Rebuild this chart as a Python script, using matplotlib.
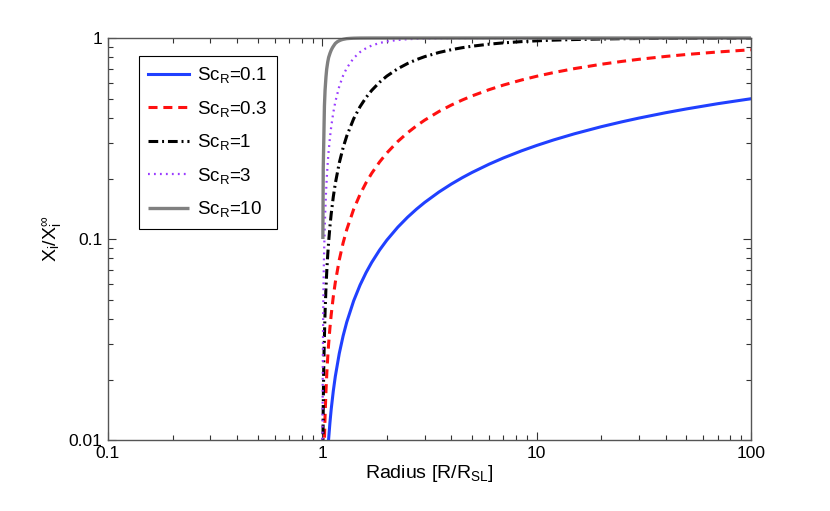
import matplotlib
matplotlib.use("Agg")
import matplotlib.pyplot as plt
from matplotlib.ticker import FixedLocator, FixedFormatter, LogLocator, NullFormatter

plt.rcParams['font.family'] = ['Liberation Sans', 'DejaVu Sans']
plt.rcParams['mathtext.fontset'] = 'custom'
plt.rcParams['mathtext.rm'] = 'Liberation Sans'
plt.rcParams['mathtext.it'] = 'Liberation Sans'
plt.rcParams['mathtext.bf'] = 'Liberation Sans:bold'
plt.rcParams['lines.scale_dashes'] = False

# ---- data ----
radius = [1.002, 1.005, 1.01, 1.015, 1.02, 1.03, 1.04, 1.05, 1.06, 1.07, 1.085, 1.1, 1.125,
          1.15, 1.2, 1.25, 1.3, 1.4, 1.5, 1.6, 1.7, 1.85, 2, 2.25, 2.5, 2.75, 3, 3.5, 4,
          4.5, 5, 6, 7, 8.5, 10, 12, 15, 20, 25, 30, 40, 50, 70, 100]
x_sc01 = [0.0003, 0.00075, 0.00149, 0.00223, 0.00297, 0.00442, 0.00587, 0.00729, 0.00870,
          0.0101, 0.01216, 0.0142, 0.01751, 0.02075, 0.02698, 0.03292, 0.03859, 0.04922,
          0.05901, 0.06807, 0.07651, 0.08815, 0.09875, 0.11453, 0.12842, 0.14079, 0.15193,
          0.17131, 0.18774, 0.20199, 0.21448, 0.23568, 0.25318, 0.27460, 0.29201, 0.31114,
          0.33379, 0.36199, 0.38293, 0.39961, 0.42500, 0.44386, 0.47129, 0.49881]
x_sc03 = [0.0009, 0.00224, 0.00447, 0.00668, 0.00887, 0.01321, 0.01749, 0.02172, 0.02588,
          0.02999, 0.03605, 0.04198, 0.05162, 0.06096, 0.07876, 0.09554, 0.11136, 0.14051,
          0.16678, 0.19061, 0.21238, 0.24176, 0.26796, 0.30578, 0.33788, 0.36567, 0.39006,
          0.43093, 0.46404, 0.49177, 0.51531, 0.55346, 0.58341, 0.61826, 0.64518, 0.67314,
          0.70436, 0.74023, 0.76505, 0.78359, 0.80985, 0.82800, 0.85220, 0.87408]
x_sc1 = [0.0030, 0.00745, 0.0148, 0.02209, 0.0293, 0.04337, 0.05713, 0.07057, 0.08369,
         0.09651, 0.11518, 0.13322, 0.16195, 0.18914, 0.23933, 0.28446, 0.32531, 0.39631,
         0.45568, 0.50588, 0.54886, 0.60259, 0.64645, 0.70370, 0.74701, 0.78072, 0.80755,
         0.84727, 0.87500, 0.89522, 0.91056, 0.93196, 0.94600, 0.95965, 0.96838, 0.97594,
         0.98279, 0.98882, 0.99200, 0.99391, 0.99604, 0.99717, 0.99829, 0.99900]
x_sc3 = [0.0094, 0.0232, 0.0457, 0.06759, 0.0889, 0.12971, 0.16835, 0.20494, 0.23954,
         0.27236, 0.31850, 0.36112, 0.42512, 0.48153, 0.57552, 0.64966, 0.70863, 0.79433,
         0.85128, 0.89018, 0.91741, 0.94450, 0.96153, 0.97789, 0.98652, 0.99139, 0.99428,
         0.99723, 0.99852, 0.99915, 0.99948, 0.99978, 0.99989, 0.99996, 0.99998, 1.0,
         1.0, 1.0, 1.0, 1.0, 1.0, 1.0, 1.0, 1.0]
radius_sc10 = [1.006, 1.010, 1.017, 1.023, 1.030, 1.040, 1.048, 1.06, 1.07, 1.086, 1.1,
               1.115, 1.13, 1.15, 1.175, 1.2, 1.225, 1.25, 1.3, 1.35, 1.4, 1.5, 1.7, 2,
               5, 10, 100]
x_sc10 = [0.10, 0.225, 0.33, 0.46, 0.55, 0.64, 0.70, 0.76, 0.80, 0.84, 0.87, 0.895, 0.915,
          0.94, 0.958, 0.97, 0.979, 0.985, 0.993, 0.996, 0.998, 0.9995, 1.0, 1.0, 1.0,
          1.0, 1.0]
labels = [r'Sc$_\mathregular{R}$=0.1', r'Sc$_\mathregular{R}$=0.3', r'Sc$_\mathregular{R}$=1',
          r'Sc$_\mathregular{R}$=3', r'Sc$_\mathregular{R}$=10']
xticks = [0.1, 1, 10, 100]
xticklabels = ['0.1', '1', '10', '100']
yticks = [0.01, 0.1, 1]
yticklabels = ['0.01', '0.1', '1']

fig = plt.figure(figsize=(8.3, 5.11), dpi=100)
ax = fig.add_axes([0.1301, 0.1389, 0.7747, 0.7867])

ax.plot(radius, x_sc01, color='#2040ff', lw=2.2, label=labels[0])
ax.plot(radius, x_sc03, color='#ff1010', lw=2.2, dashes=(6.5, 4.2), label=labels[1])
ax.plot(radius, x_sc1, color='black', lw=2.2, dashes=(7.0, 2.8, 1.4, 2.8), label=labels[2])
ax.plot(radius, x_sc3, color='#9a3cff', lw=1.6, dashes=(1.3, 3.0), label=labels[3])
ax.plot(radius_sc10, x_sc10, color='#808080', lw=2.4, solid_capstyle='butt',
        clip_on=False, label=labels[4])

ax.set_xscale('log')
ax.set_yscale('log')
ax.set_xlim(0.1, 100)
ax.set_ylim(0.01, 1)

ax.xaxis.set_major_locator(FixedLocator(xticks))
ax.xaxis.set_major_formatter(FixedFormatter(xticklabels))
ax.yaxis.set_major_locator(FixedLocator(yticks))
ax.yaxis.set_major_formatter(FixedFormatter(yticklabels))
ax.xaxis.set_minor_locator(LogLocator(base=10, subs=range(2, 10)))
ax.yaxis.set_minor_locator(LogLocator(base=10, subs=range(2, 10)))
ax.xaxis.set_minor_formatter(NullFormatter())
ax.yaxis.set_minor_formatter(NullFormatter())

spine_col = '#555555'
for s in ax.spines.values():
    s.set_color(spine_col)
    s.set_linewidth(1.0)
ax.tick_params(which='both', direction='in', top=True, right=True, colors='#333333',
               labelcolor='black', labelsize=12.5)
ax.tick_params(which='major', length=6, width=0.8)
ax.tick_params(axis='x', which='major', pad=4)
ax.tick_params(axis='y', which='major', pad=4)
ax.tick_params(which='minor', length=3.5, width=0.8)

ax.set_xlabel(r'Radius [R/R$_\mathregular{SL}$]', fontsize=14, labelpad=2)
ax.set_ylabel(r'X$_\mathregular{i}$/X$_\mathregular{i}^\infty$', fontsize=14, labelpad=4)

leg = ax.legend(loc='upper left', bbox_to_anchor=(0.048, 0.955), borderaxespad=0,
                fontsize=13.5, handlelength=2.2, handletextpad=0.4, labelspacing=0.72,
                fancybox=False, framealpha=1, edgecolor='black', borderpad=0.5)
leg.get_frame().set_linewidth(0.8)

fig.savefig('out.png', dpi=100)
